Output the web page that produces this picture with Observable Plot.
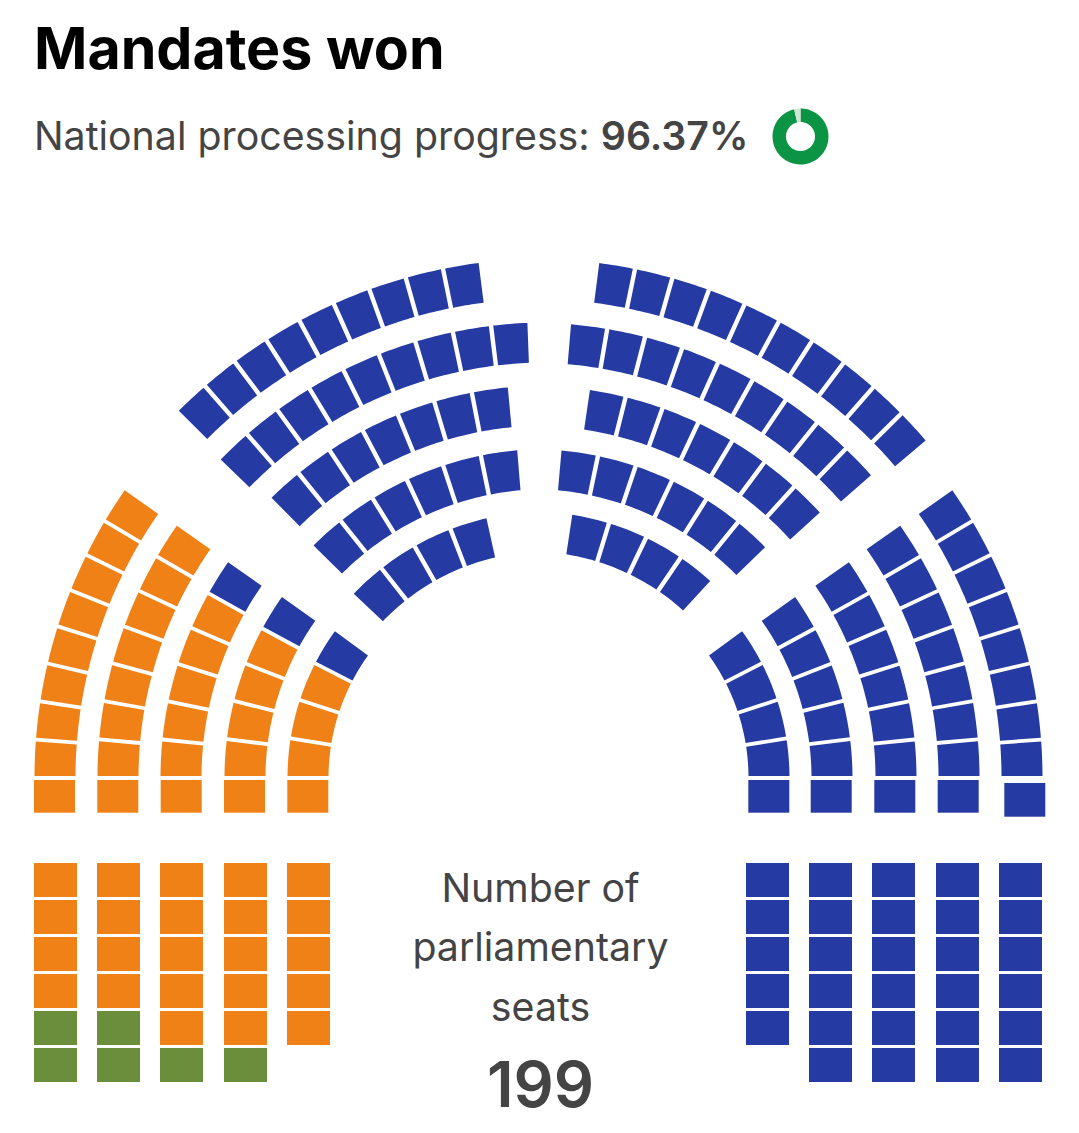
<!DOCTYPE html>
<html lang="en">
<head>
<meta charset="utf-8">
<title>Mandates won</title>
<script src="https://cdn.jsdelivr.net/npm/d3@7"></script>
<script src="https://cdn.jsdelivr.net/npm/@observablehq/plot@0.6"></script>
<style>
  html, body { margin: 0; padding: 0; background: #fff; overflow: hidden; }
  body { width: 1079px; font-family: Inter, sans-serif; }
  #head { height: 190px; box-sizing: border-box; position: relative; }
  h1 { position: absolute; left: 34px; top: 13px; margin: 0; font: 700 57.3px/70px Inter, sans-serif; color: #000; letter-spacing: 0; white-space: nowrap; }
  #sub { position: absolute; left: 34px; top: 112px; font: 400 39.3px/48px Inter, sans-serif; color: #444; white-space: nowrap; }
  #sub b { font-weight: 600; }
  #ring { position: absolute; left: 770px; top: 106px; }
  svg { display: block; }
</style>
</head>
<body>
<div id="head">
  <h1>Mandates won</h1>
  <div id="sub">National processing progress: <b>96.37%</b></div>
  <div id="ring"></div>
</div>
<div id="chart"></div>
<script>
// ---- data ----
const title = "Mandates won";
const progress = 96.37;
const totalSeats = 199;
const centerLines = ["Number of", "parliamentary", "seats"];
const parties = ["Party A", "Party B", "Party C"];
const partyColors = ["#EF8116", "#6A8E3C", "#253BA3"];

// seats per row (outermost first), going round the hemicycle
const blockLeftSeats  = [6, 6, 6, 6, 5];
const blockLeftGreen  = [2, 2, 1, 1, 0];   // Party B seats at the bottom of the column
const wingLeftSeats   = [9, 8, 7, 6, 5];
const wingLeftOrange  = [9, 8, 6, 5, 4];   // Party A; the remainder is Party C
const topLeftSeats    = [9, 9, 7, 6, 4];
const topRightSeats   = [10, 9, 7, 6, 4];
const wingRightSeats  = [9, 8, 7, 6, 5];
const blockRightSeats = [6, 6, 6, 6, 5];

// ---- layout (pixels on the page, degrees) ----
const headH = 190, W = 1079, H = 1133 - headH;
const wingGap = 1.9, topGap = 2.2;   // half of the white gap between two seats
const wingC = [538, 777.5], wingR = [504, 441, 378, 314, 251], wingW = 41;
const wingTop = [34.8, 34.9, 34.8, 35.2, 35.8];
const topR = [520, 456, 393, 329.5, 267], topW = 40;
const tlC = [546, 778], tlLow = [45.0, 44.4, 45.6, 45.0, 43.8], tlHigh = [82.5, 87.6, 84.35, 84.9, 77.0];
const trC = [530, 778], trLow = [40.55, 41.7, 42.6, 44.6, 47.7], trHigh = [82.4, 84.9, 81.3, 84.6, 81.0];
const baseLeftX  = [34, 97.3, 160.7, 224, 287.3];
const baseRightX = [1004.3, 937.7, 874.3, 810.7, 748.3];
const baseRightDy = [3, 0, 0, 0, 0];
const blockLeftX  = [34, 97, 160, 224, 287];
const blockRightX = [999, 936, 872, 809, 746];
const blockY = [863, 900, 937, 974, 1011, 1048];

// ---- build seat tables ----
const [partyA, partyB, partyC] = parties;
const rad = d => d * Math.PI / 180;
const polys = [], rects = [];
let id = 0;

// one curved seat: angle measured from the horizontal, side -1 = left, +1 = right
function wedge(c, side, rOut, width, mid, pitch, party, gap) {
  const seat = id++;
  const pts = [];
  const half = r => pitch / 2 - gap / r;
  const rIn = rOut - width;
  for (let k = 0; k <= 8; k++) {
    const a = mid - half(rOut) + (2 * half(rOut)) * k / 8;
    pts.push({seat, party, x: c[0] + side * rOut * Math.cos(a), y: c[1] - rOut * Math.sin(a)});
  }
  for (let k = 8; k >= 0; k--) {
    const a = mid - half(rIn) + (2 * half(rIn)) * k / 8;
    pts.push({seat, party, x: c[0] + side * rIn * Math.cos(a), y: c[1] - rIn * Math.sin(a)});
  }
  polys.push(...pts);
}

function arcRow(c, side, rOut, width, low, high, n, party) {
  const a0 = rad(low), a1 = rad(high);
  const pitch = (a1 - a0 + 2 * topGap / rOut) / n;
  const start = a0 - topGap / rOut;
  for (let i = 0; i < n; i++) wedge(c, side, rOut, width, start + pitch * (i + 0.5), pitch, party, topGap);
}

wingLeftSeats.forEach((n, r) => {
  rects.push({party: partyA, x1: baseLeftX[r], x2: baseLeftX[r] + 41, y1: 780, y2: 812.7});
  const a1 = rad(wingTop[r]);
  const pitch = (a1 + wingGap / wingR[r]) / (n - 1);
  for (let i = 0; i < n - 1; i++) {
    wedge(wingC, -1, wingR[r], wingW, pitch * (i + 0.5), pitch, i + 1 < wingLeftOrange[r] ? partyA : partyC, wingGap);
  }
});
wingRightSeats.forEach((n, r) => {
  const dy = baseRightDy[r];
  rects.push({party: partyC, x1: baseRightX[r], x2: baseRightX[r] + 41, y1: 780 + dy, y2: 812.7 + dy + (dy ? 1 : 0)});
  const a1 = rad(wingTop[r]);
  const pitch = (a1 + wingGap / wingR[r]) / (n - 1);
  for (let i = 0; i < n - 1; i++) wedge(wingC, 1, wingR[r], wingW, pitch * (i + 0.5), pitch, partyC, wingGap);
});
topLeftSeats.forEach((n, r) => arcRow(tlC, -1, topR[r], topW, tlLow[r], tlHigh[r], n, partyC));
topRightSeats.forEach((n, r) => arcRow(trC, 1, topR[r], topW, trLow[r], trHigh[r], n, partyC));

blockLeftSeats.forEach((n, c) => {
  for (let i = 0; i < n; i++) {
    const party = i >= n - blockLeftGreen[c] ? partyB : partyA;
    rects.push({party, x1: blockLeftX[c], x2: blockLeftX[c] + 43, y1: blockY[i], y2: blockY[i] + 34});
  }
});
blockRightSeats.forEach((n, c) => {
  for (let i = 0; i < n; i++) {
    rects.push({party: partyC, x1: blockRightX[c], x2: blockRightX[c] + 43, y1: blockY[i], y2: blockY[i] + 34});
  }
});

const labels = [
  {t: centerLines[0], y: 889, s: 39.3, w: 400},
  {t: centerLines[1], y: 948, s: 39.3, w: 400},
  {t: centerLines[2], y: 1007.5, s: 39.3, w: 400},
  {t: String(totalSeats), y: 1086, s: 63, w: 600}
];

const chart = Plot.plot({
  width: W, height: H,
  marginTop: 0, marginRight: 0, marginBottom: 0, marginLeft: 0,
  x: {domain: [0, W], range: [0, W], axis: null},
  y: {domain: [headH, 1133], range: [0, H], axis: null},
  color: {type: "ordinal", domain: parties, range: partyColors, legend: false},
  style: {background: "#fff", fontFamily: "Inter, sans-serif", overflow: "visible"},
  marks: [
    Plot.rect(rects, {x1: "x1", x2: "x2", y1: "y1", y2: "y2", fill: "party"}),
    Plot.line(polys, {x: "x", y: "y", z: "seat", fill: "party", stroke: null, curve: "linear-closed"}),
    ...labels.map(d => Plot.text([d], {
      x: () => 540, y: "y", text: "t", fontSize: d.s, fontWeight: d.w,
      fill: "#444", textAnchor: "middle", lineAnchor: "middle"
    }))
  ]
});
document.getElementById("chart").appendChild(chart);

// progress ring
const ringParts = [{part: "done", from: 0, to: progress}, {part: "rest", from: progress, to: 100}];
const ringPts = [];
ringParts.forEach(p => {
  const steps = Math.max(2, Math.ceil(p.to - p.from));
  const at = (r, k) => {
    const a = 2 * Math.PI * (p.from + (p.to - p.from) * k / steps) / 100;
    return {part: p.part, x: r * Math.sin(a), y: r * Math.cos(a)};
  };
  for (let k = 0; k <= steps; k++) ringPts.push(at(28, k));
  for (let k = steps; k >= 0; k--) ringPts.push(at(14.5, k));
});
const ring = Plot.plot({
  width: 60, height: 60,
  marginTop: 0, marginRight: 0, marginBottom: 0, marginLeft: 0,
  x: {domain: [-30, 30], range: [0, 60], axis: null},
  y: {domain: [-30, 30], range: [60, 0], axis: null},
  color: {domain: ["done", "rest"], range: ["#0B9444", "#CFE6D5"]},
  marks: [Plot.line(ringPts, {x: "x", y: "y", z: "part", fill: "part", stroke: null, curve: "linear-closed"})]
});
document.getElementById("ring").appendChild(ring);
</script>
</body>
</html>
